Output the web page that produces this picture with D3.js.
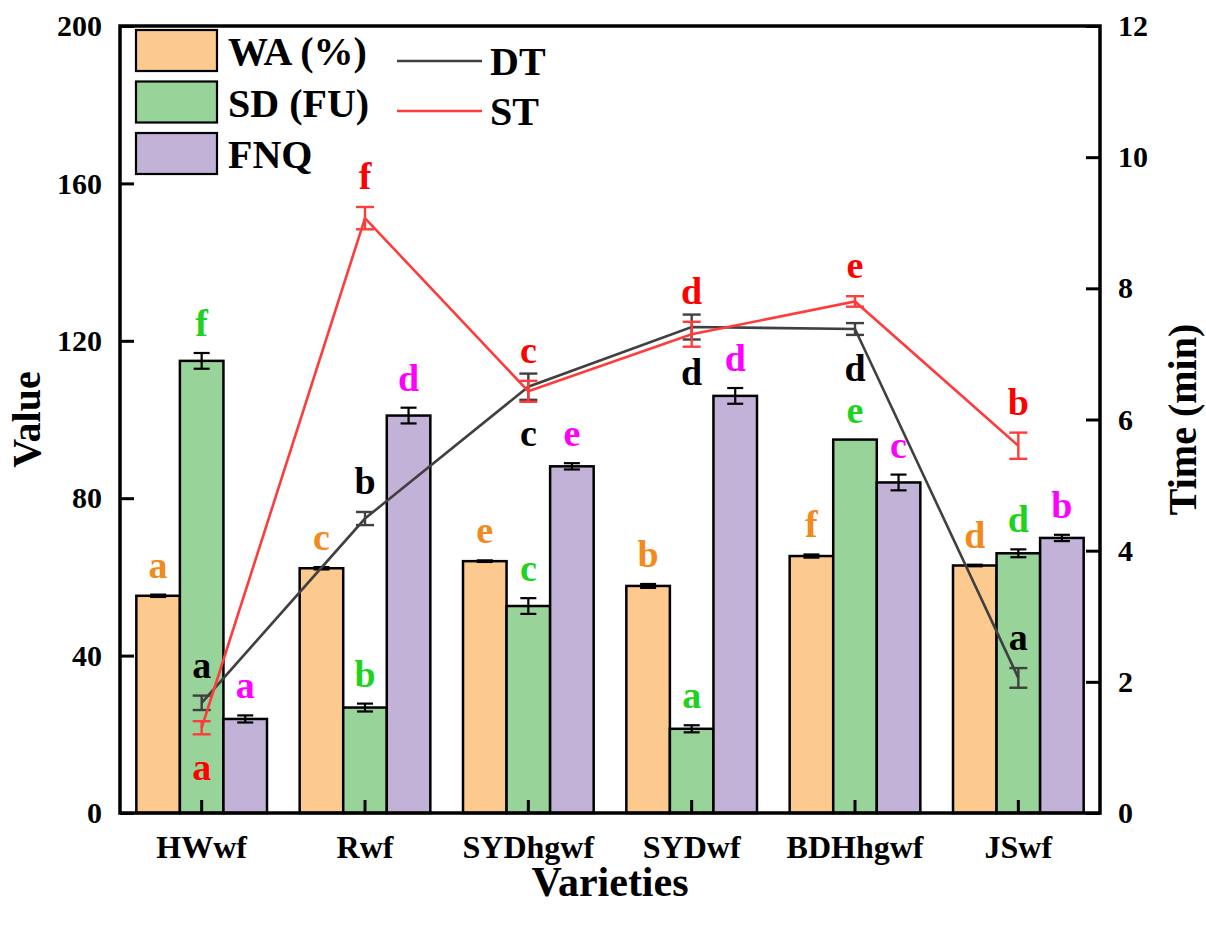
<!DOCTYPE html>
<html>
<head>
<meta charset="utf-8">
<script src="https://cdn.jsdelivr.net/npm/d3@7"></script>
<style>
  body { margin: 0; background: #fff; }
  svg text { font-family: "Liberation Serif", "Times New Roman", serif; font-weight: bold; }
</style>
</head>
<body>
<div id="chart"></div>
<script>
// Data
const categories = ["HWwf", "Rwf", "SYDhgwf", "SYDwf", "BDHhgwf", "JSwf"];

const waVals = [55.2, 62.2, 64.0, 57.7, 65.3, 62.9];
const waErr  = [0.3, 0.3, 0.2, 0.5, 0.4, 0.2];
const waSig  = ["a", "c", "e", "b", "f", "d"];

const sdVals = [114.9, 26.8, 52.6, 21.4, 94.9, 66.0];
const sdErr  = [2.0, 1.0, 2.0, 0.9, 0, 1.0];
const sdSig  = ["f", "b", "c", "a", "e", "d"];

const fnqVals = [23.9, 101.0, 88.1, 106.0, 84.0, 69.9];
const fnqErr  = [0.9, 2.0, 0.8, 2.0, 2.0, 0.8];
const fnqSig  = ["a", "d", "e", "d", "c", "b"];

const dtVals = [1.68, 4.49, 6.50, 7.41, 7.38, 2.06];
const dtErr  = [0.11, 0.10, 0.20, 0.19, 0.09, 0.15];
const dtSig  = ["a", "b", "c", "d", "d", "a"];
const dtSide = ["up", "up", "down", "down", "down", "up"];

const stVals = [1.30, 9.07, 6.43, 7.30, 7.80, 5.60];
const stErr  = [0.10, 0.17, 0.16, 0.19, 0.08, 0.20];
const stSig  = ["a", "f", "c", "d", "e", "b"];
const stSide = ["down", "up", "up", "up", "up", "up"];

const leftTicks = [0, 40, 80, 120, 160, 200];
const rightTicks = [0, 2, 4, 6, 8, 10, 12];

const barSeries = [
    {name: "WA (%)", vals: waVals, err: waErr, sig: waSig, fill: "#fcc98e", sigColor: "#f28a1e"},
    {name: "SD (FU)", vals: sdVals, err: sdErr, sig: sdSig, fill: "#98d49a", sigColor: "#1fd21f"},
    {name: "FNQ", vals: fnqVals, err: fnqErr, sig: fnqSig, fill: "#c2b2d8", sigColor: "#ff00ff"},
];
const lineSeries = [
    {name: "DT", vals: dtVals, err: dtErr, sig: dtSig, side: dtSide, color: "#404040", sigColor: "#000"},
    {name: "ST", vals: stVals, err: stErr, sig: stSig, side: stSide, color: "#ff3b3b", sigColor: "#ff0000"},
];

const width = 1206, height = 930;
const margin = {left: 120, right: 106, top: 26, bottom: 117};
const x0 = margin.left, x1 = width - margin.right;
const y0 = height - margin.bottom, y1 = margin.top;

const svg = d3.select("#chart").append("svg")
    .attr("width", width)
    .attr("height", height)
    .attr("viewBox", "0 0 " + width + " " + height);

svg.append("rect").attr("width", width).attr("height", height).attr("fill", "#fff");

const x = d3.scaleBand().domain(categories).range([x0, x1]);
const xs = d3.scaleBand().domain(barSeries.map(s => s.name))
    .range([-x.bandwidth() * 0.4, x.bandwidth() * 0.4]);
const yL = d3.scaleLinear().domain([0, 200]).range([y0, y1]);
const yR = d3.scaleLinear().domain([0, 12]).range([y0, y1]);

const cx = c => x(c) + x.bandwidth() / 2;

// Bars
barSeries.forEach(s => {
    const g = svg.append("g");
    g.selectAll("rect")
	.data(categories)
	.enter().append("rect")
	.attr("x", c => cx(c) + xs(s.name))
	.attr("width", xs.bandwidth())
	.attr("y", (c, i) => yL(s.vals[i]))
	.attr("height", (c, i) => y0 - yL(s.vals[i]))
	.attr("fill", s.fill)
	.attr("stroke", "#000")
	.attr("stroke-width", 2.5);

    // error bars
    categories.forEach((c, i) => {
	if (s.err[i] <= 0) return;
	const bx = cx(c) + xs(s.name) + xs.bandwidth() / 2;
	const ya = yL(s.vals[i] + s.err[i]), yb = yL(s.vals[i] - s.err[i]);
	const eg = g.append("g").attr("stroke", "#000").attr("stroke-width", 2.2);
	eg.append("line").attr("x1", bx).attr("x2", bx).attr("y1", ya).attr("y2", yb);
	eg.append("line").attr("x1", bx - 8).attr("x2", bx + 8).attr("y1", ya).attr("y2", ya);
	eg.append("line").attr("x1", bx - 8).attr("x2", bx + 8).attr("y1", yb).attr("y2", yb);
    });

    // significance letters
    g.selectAll("text.sig")
	.data(categories)
	.enter().append("text")
	.attr("class", "sig")
	.attr("x", c => cx(c) + xs(s.name) + xs.bandwidth() / 2)
	.attr("y", (c, i) => yL(s.vals[i] + s.err[i]) - 17)
	.attr("text-anchor", "middle")
	.attr("font-size", 38)
	.attr("fill", s.sigColor)
	.text((c, i) => s.sig[i]);
});

// Lines on right axis
lineSeries.forEach(s => {
    const g = svg.append("g");
    const line = d3.line().x(d => cx(d.c)).y(d => yR(d.v));
    const pts = categories.map((c, i) => ({c: c, v: s.vals[i]}));
    g.append("path")
	.attr("d", line(pts))
	.attr("fill", "none")
	.attr("stroke", s.color)
	.attr("stroke-width", 2.6);

    categories.forEach((c, i) => {
	const px = cx(c);
	const ya = yR(s.vals[i] + s.err[i]), yb = yR(s.vals[i] - s.err[i]);
	const eg = g.append("g").attr("stroke", s.color).attr("stroke-width", 2.4);
	eg.append("line").attr("x1", px).attr("x2", px).attr("y1", ya).attr("y2", yb);
	eg.append("line").attr("x1", px - 9).attr("x2", px + 9).attr("y1", ya).attr("y2", ya);
	eg.append("line").attr("x1", px - 9).attr("x2", px + 9).attr("y1", yb).attr("y2", yb);

	const ty = s.side[i] === "up" ? ya - 18 : yb + 46;
	g.append("text")
	    .attr("x", px)
	    .attr("y", ty)
	    .attr("text-anchor", "middle")
	    .attr("font-size", 38)
	    .attr("fill", s.sigColor)
	    .text(s.sig[i]);
    });
});

// Axes
const axisW = 3.5;
const leftAxis = d3.axisLeft(yL).tickValues(leftTicks).tickSize(-14).tickPadding(18);
const gl = svg.append("g").attr("transform", "translate(" + x0 + ",0)").call(leftAxis);
const rightAxis = d3.axisRight(yR).tickValues(rightTicks).tickSize(-14).tickPadding(18);
const gr = svg.append("g").attr("transform", "translate(" + x1 + ",0)").call(rightAxis);
const bottomAxis = d3.axisBottom(x).tickSize(-13).tickPadding(22);
const gb = svg.append("g").attr("transform", "translate(0," + y0 + ")").call(bottomAxis);

[gl, gr, gb].forEach(g => {
    g.select(".domain").remove();
    g.selectAll(".tick line").attr("stroke", "#000").attr("stroke-width", 3);
    g.selectAll(".tick text")
	.attr("fill", "#000")
	.attr("font-family", "Liberation Serif, serif")
	.attr("font-weight", "bold");
});
gl.selectAll(".tick text").attr("font-size", 30);
gr.selectAll(".tick text").attr("font-size", 30);
gb.selectAll(".tick text").attr("font-size", 32);

// Frame
svg.append("rect")
    .attr("x", x0).attr("y", y1)
    .attr("width", x1 - x0).attr("height", y0 - y1)
    .attr("fill", "none")
    .attr("stroke", "#000")
    .attr("stroke-width", axisW);

// Axis titles
svg.append("text")
    .attr("transform", "translate(40," + ((y0 + y1) / 2) + ") rotate(-90)")
    .attr("text-anchor", "middle")
    .attr("font-size", 40)
    .text("Value");
svg.append("text")
    .attr("transform", "translate(1196," + ((y0 + y1) / 2) + ") rotate(-90)")
    .attr("text-anchor", "middle")
    .attr("font-size", 40)
    .text("Time (min)");
svg.append("text")
    .attr("x", (x0 + x1) / 2)
    .attr("y", 896)
    .attr("text-anchor", "middle")
    .attr("font-size", 42)
    .text("Varieties");

// Legend
const lg = svg.append("g");
barSeries.forEach((s, i) => {
    const ly = 30 + i * 51.5;
    lg.append("rect")
	.attr("x", 136).attr("y", ly)
	.attr("width", 81).attr("height", 41)
	.attr("fill", s.fill)
	.attr("stroke", "#000")
	.attr("stroke-width", 2.2);
    lg.append("text")
	.attr("x", 228).attr("y", ly + 35)
	.attr("font-size", 40)
	.text(s.name);
});
lineSeries.forEach((s, i) => {
    const ly = 61 + i * 50;
    lg.append("line")
	.attr("x1", 397).attr("x2", 482)
	.attr("y1", ly).attr("y2", ly)
	.attr("stroke", s.color)
	.attr("stroke-width", 2.6);
    lg.append("text")
	.attr("x", 490).attr("y", ly + 14)
	.attr("font-size", 40)
	.text(s.name);
});
</script>
</body>
</html>
